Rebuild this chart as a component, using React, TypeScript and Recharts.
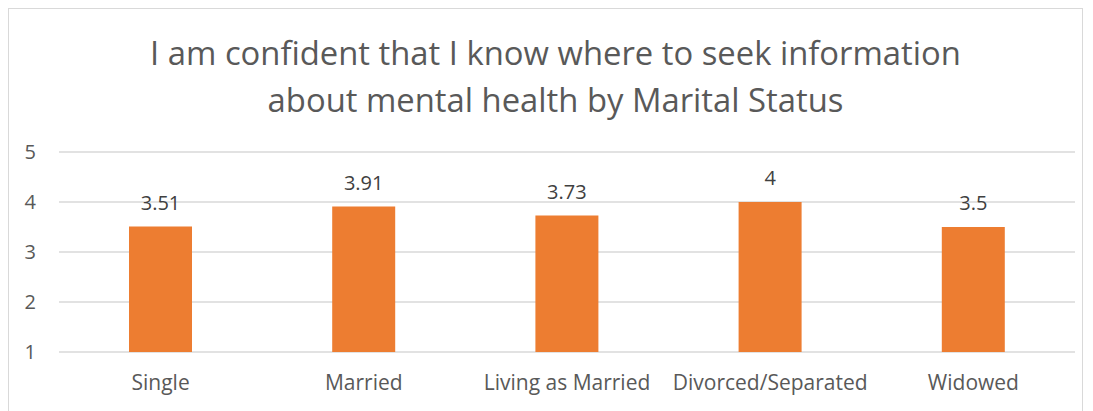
import { BarChart, Bar, XAxis, YAxis, CartesianGrid, LabelList } from "recharts";

const categories = ["Single", "Married", "Living as Married", "Divorced/Separated", "Widowed"];
const scores = [3.51, 3.91, 3.73, 4, 3.5];
const yTicks = [1, 2, 3, 4, 5];

const chartData = categories.map((name, i) => ({ name, value: scores[i] }));

const FONT = "'Open Sans', sans-serif";
const TEXT = "#595959";

export default function App() {
    return (
        <div
            style={{
                position: "relative",
                width: 1075,
                height: 420,
                boxSizing: "border-box",
                border: "1px solid #d9d9d9",
                background: "#fff",
                fontFamily: FONT,
            }}
        >
            <div
                style={{
                    position: "absolute",
                    top: 20,
                    left: 20,
                    right: 0,
                    textAlign: "center",
                    fontSize: 32.8,
                    lineHeight: "47px",
                    color: TEXT,
                }}
            >
                I am confident that I know where to seek information
                <br />
                about mental health by Marital Status
            </div>
            <BarChart
                width={1073}
                height={410}
                data={chartData}
                margin={{ top: 143, right: 7, left: 0, bottom: 27 }}
            >
                <CartesianGrid vertical={false} stroke="#d9d9d9" strokeWidth={1.5} />
                <XAxis
                    dataKey="name"
                    axisLine={false}
                    tickLine={false}
                    tickSize={0}
                    tickMargin={23}
                    height={40}
                    tick={{ fill: TEXT, fontSize: 21, fontFamily: FONT }}
                />
                <YAxis
                    domain={[1, 5]}
                    ticks={yTicks}
                    axisLine={false}
                    tickLine={false}
                    tickSize={0}
                    tickMargin={23}
                    width={50}
                    tick={{ fill: TEXT, fontSize: 20, fontFamily: FONT }}
                />
                <Bar dataKey="value" fill="#ed7d31" barSize={63} isAnimationActive={false}>
                    <LabelList
                        dataKey="value"
                        position="top"
                        offset={17}
                        fill="#404040"
                        fontSize={20}
                        fontFamily={FONT}
                    />
                </Bar>
            </BarChart>
        </div>
    );
}
